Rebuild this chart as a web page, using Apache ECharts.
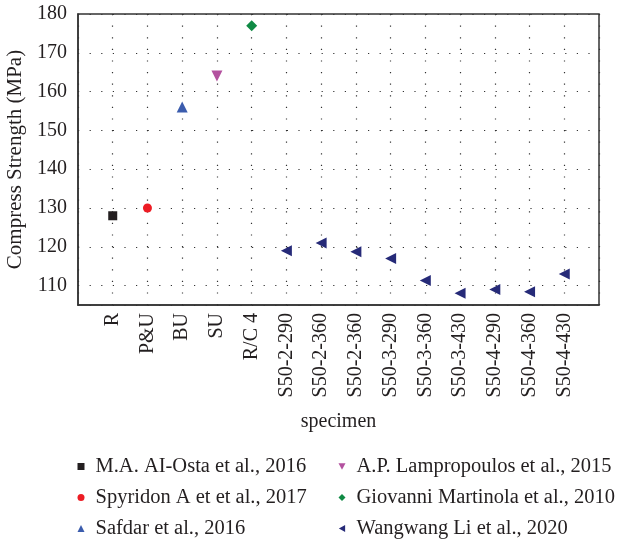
<!DOCTYPE html>
<html>
<head>
<meta charset="utf-8">
<script src="https://cdn.jsdelivr.net/npm/echarts@6/dist/echarts.min.js"></script>
<style>
  html, body { margin: 0; padding: 0; background: #fff; }
  #chart { width: 622px; height: 540px; }
</style>
</head>
<body>
<div id="chart"></div>
<script>
// Specimen names along the x axis (positions 1..14)
const specimens = ['R', 'P&U', 'BU', 'SU', 'R/C 4',
  'S50-2-290', 'S50-2-360', 'S50-2-360', 'S50-3-290', 'S50-3-360',
  'S50-3-430', 'S50-4-290', 'S50-4-360', 'S50-4-430'];

// Compressive strength (MPa) per study
const alOstaVals = [128];
const spyridonVals = [130];
const safdarVals = [156];
const lampropoulosVals = [164];
const martinolaVals = [177];
const liVals = [119, 121, 118.7, 117, 111.3, 108, 109, 108.4, 113];

const seriesNames = ['M.A. AI-Osta et al., 2016', 'Spyridon A et et al., 2017',
  'Safdar et al., 2016', 'A.P. Lampropoulos et al., 2015',
  'Giovanni Martinola et al., 2010', 'Wangwang Li et al., 2020'];

const yTicks = [110, 120, 130, 140, 150, 160, 170, 180];

// pair values with their specimen position (1-based)
function pts(startIdx, vals) {
  return vals.map((v, i) => [startIdx + i + 1, v]);
}

const serif = '"Liberation Serif", "DejaVu Serif", serif';
const ink = '#231f20';
const dotted = { color: '#333', width: 1.2, type: [1.2, 10.4] };

// legend glyphs for the rotated triangles
const downTri = 'path://M0,0 L10,0 L5,9 Z';
const leftTri = 'path://M0,5 L9,0 L9,10 Z';

const legendBase = {
  orient: 'vertical', top: 456, height: 90, padding: 0,
  itemWidth: 7, itemHeight: 7, itemGap: 10,
  textStyle: { fontFamily: serif, fontSize: 20.5, lineHeight: 20, color: ink, padding: [0, 0, 0, 6] }
};

const chart = echarts.init(document.getElementById('chart'));
chart.setOption({
  animation: false,
  backgroundColor: '#fff',
  textStyle: { fontFamily: serif },
  grid: {
    left: 78, right: 23, top: 14, bottom: 235,
    containLabel: false, outerBoundsMode: 'none',
    show: true, borderColor: '#333', borderWidth: 1.5, backgroundColor: 'transparent'
  },
  xAxis: {
    type: 'value', min: 0, max: specimens.length + 1, interval: 1,
    name: 'specimen', nameLocation: 'middle', nameGap: 107,
    nameTextStyle: { fontFamily: serif, fontSize: 20, color: ink },
    axisLine: { show: true, lineStyle: { color: '#333', width: 1.5 } },
    axisTick: { show: false },
    axisLabel: {
      rotate: 90, margin: 8, fontFamily: serif, fontSize: 20, color: ink,
      formatter: v => specimens[v - 1] || ''
    },
    splitLine: { show: true, lineStyle: dotted }
  },
  yAxis: {
    type: 'value', min: 105, max: 180, splitNumber: 7, minInterval: 10, maxInterval: 10,
    name: 'Compress Strength (MPa)', nameLocation: 'middle', nameGap: 51, nameRotate: 90,
    nameTextStyle: { fontFamily: serif, fontSize: 21, color: ink },
    axisLine: { show: true, lineStyle: { color: '#333', width: 1.5 } },
    axisTick: { show: false },
    axisLabel: {
      margin: 11, fontFamily: serif, fontSize: 20, color: ink,
      formatter: v => (yTicks.indexOf(v) >= 0 ? String(v) : '')
    },
    splitLine: { show: true, lineStyle: dotted }
  },
  legend: [
    Object.assign({ data: seriesNames.slice(0, 3), left: 77.5 }, legendBase),
    Object.assign({
      data: [
        { name: seriesNames[3], icon: downTri },
        { name: seriesNames[4] },
        { name: seriesNames[5], icon: leftTri }
      ],
      left: 338.5
    }, legendBase)
  ],
  series: [
    { name: seriesNames[0], type: 'scatter', symbol: 'rect', symbolSize: 9,
      itemStyle: { color: '#231f20', opacity: 1 }, data: pts(0, alOstaVals) },
    { name: seriesNames[1], type: 'scatter', symbol: 'circle', symbolSize: 9,
      itemStyle: { color: '#ed1c24', opacity: 1 }, data: pts(1, spyridonVals) },
    { name: seriesNames[2], type: 'scatter', symbol: 'triangle', symbolSize: 11,
      itemStyle: { color: '#3b5cad', opacity: 1 }, data: pts(2, safdarVals) },
    { name: seriesNames[3], type: 'scatter', symbol: 'triangle', symbolSize: 11, symbolRotate: 180,
      itemStyle: { color: '#b3519f', opacity: 1 }, data: pts(3, lampropoulosVals) },
    { name: seriesNames[4], type: 'scatter', symbol: 'diamond', symbolSize: 11,
      itemStyle: { color: '#0f8a44', opacity: 1 }, data: pts(4, martinolaVals) },
    { name: seriesNames[5], type: 'scatter', symbol: 'triangle', symbolSize: 11, symbolRotate: 90,
      itemStyle: { color: '#262a78', opacity: 1 }, data: pts(5, liVals) }
  ]
});
</script>
</body>
</html>
